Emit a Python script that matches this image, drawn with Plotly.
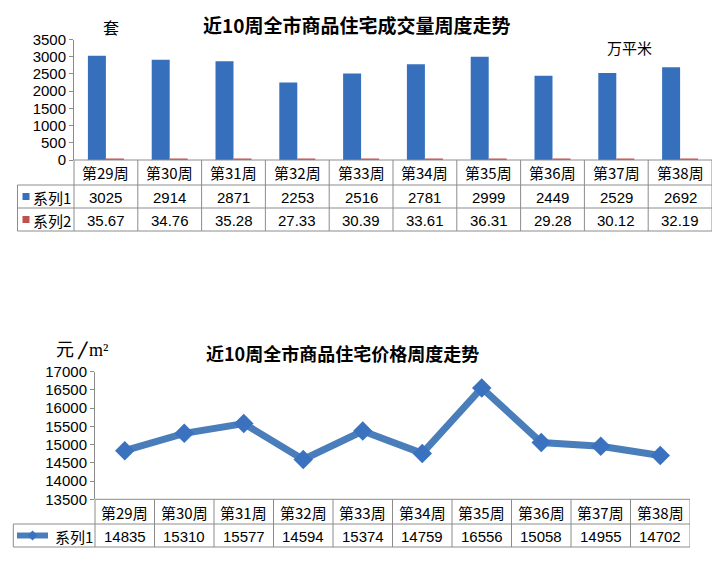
import plotly.graph_objects as go

# ---------------- data ----------------
weeks = ["第29周", "第30周", "第31周", "第32周", "第33周",
         "第34周", "第35周", "第36周", "第37周", "第38周"]
units_sold = [3025, 2914, 2871, 2253, 2516, 2781, 2999, 2449, 2529, 2692]
area_sold = [35.67, 34.76, 35.28, 27.33, 30.39, 33.61, 36.31, 29.28, 30.12, 32.19]
units_text = ["3025", "2914", "2871", "2253", "2516", "2781", "2999", "2449", "2529", "2692"]
area_text = ["35.67", "34.76", "35.28", "27.33", "30.39", "33.61", "36.31", "29.28", "30.12", "32.19"]
prices = [14835, 15310, 15577, 14594, 15374, 14759, 16556, 15058, 14955, 14702]
price_text = ["14835", "15310", "15577", "14594", "15374", "14759", "16556", "15058", "14955", "14702"]
top_title = "近10周全市商品住宅成交量周度走势"
bottom_title = "近10周全市商品住宅价格周度走势"
series_names = ["系列1", "系列2"]
top_yticks = [0, 500, 1000, 1500, 2000, 2500, 3000, 3500]
bottom_yticks = [13500, 14000, 14500, 15000, 15500, 16000, 16500, 17000]

# ---------------- layout helpers ----------------
W, H = 726, 575
def px(x):
    return x / W
def py(y):
    return 1 - y / H

FONT = "Liberation Sans, Noto Sans CJK SC, sans-serif"
CJK = "Noto Sans CJK SC, Liberation Sans, sans-serif"
GRID = "#8c8c8c"
BLUE = "#3670bd"
RED = "#c0504d"
LINE = "#4a7ebb"
MARK = "#3a72c0"

# top chart geometry (pixels)
TX0, TX1 = 74, 712
TY_TOP, TY_BOT = 39.5, 160
T_ROWS = [160, 185, 208, 231]
T_LEFT = 17.5
# bottom chart geometry
BX0, BX1 = 95, 690
BY_TOP, BY_BOT = 371.7, 499.3
B_ROWS = [499.3, 524, 547]
B_LEFT = 13.3

fig = go.Figure()

fig.add_trace(go.Bar(x=weeks, y=units_sold, name=series_names[0],
                     marker=dict(color=BLUE, line=dict(width=0)),
                     xaxis="x", yaxis="y"))
fig.add_trace(go.Bar(x=weeks, y=area_sold, name=series_names[1],
                     marker=dict(color=RED, line=dict(width=0)),
                     xaxis="x", yaxis="y"))
fig.add_trace(go.Scatter(x=weeks, y=prices, name=series_names[0], mode="lines+markers",
                         line=dict(color=LINE, width=7),
                         marker=dict(symbol="diamond", size=15, color=MARK),
                         xaxis="x2", yaxis="y2"))

shapes = []
annotations = []

def hline(x0, x1, y, xref="paper"):
    shapes.append(dict(type="line", xref=xref, yref="paper", x0=x0, x1=x1,
                       y0=py(y), y1=py(y), line=dict(color=GRID, width=1)))

def vline(x, y0, y1, xref="paper"):
    shapes.append(dict(type="line", xref=xref, yref="paper", x0=x, x1=x,
                       y0=py(y0), y1=py(y1), line=dict(color=GRID, width=1)))

def text(x, y, s, size=15, xref="paper", family=FONT, xanchor="center", bold=False):
    annotations.append(dict(x=x, y=py(y), xref=xref, yref="paper",
                            text=("<b>%s</b>" % s) if bold else s, showarrow=False,
                            xanchor=xanchor, yanchor="middle",
                            font=dict(family=family, size=size, color="#000000")))

# ---- top table ----
hline(px(TX0), px(TX1), T_ROWS[0])
for r in T_ROWS[1:]:
    hline(px(T_LEFT), px(TX1), r)
vline(px(T_LEFT), T_ROWS[1], T_ROWS[3])
vline(px(TX0), T_ROWS[0], T_ROWS[3])
for i in range(len(weeks)):
    vline(i + 0.5, T_ROWS[0], T_ROWS[3], xref="x")
for i, w in enumerate(weeks):
    text(i, (T_ROWS[0] + T_ROWS[1]) / 2 + 0.5, w, xref="x", family=CJK)
    text(i, (T_ROWS[1] + T_ROWS[2]) / 2 + 0.5, units_text[i], xref="x")
    text(i, (T_ROWS[2] + T_ROWS[3]) / 2 + 0.5, area_text[i], xref="x")
# legend keys in table
for k, (col, row) in enumerate([(BLUE, 1), (RED, 2)]):
    yc = (T_ROWS[row] + T_ROWS[row + 1]) / 2
    shapes.append(dict(type="rect", xref="paper", yref="paper",
                       x0=px(22.5), x1=px(29.5), y0=py(yc + 3.5), y1=py(yc - 3.5),
                       fillcolor=col, line=dict(width=0)))
    text(px(31), yc + 0.5, series_names[k], family=CJK, xanchor="left")

# ---- bottom table ----
hline(px(BX0), px(BX1), B_ROWS[0])
for r in B_ROWS[1:]:
    hline(px(B_LEFT), px(BX1), r)
vline(px(B_LEFT), B_ROWS[1], B_ROWS[2])
vline(px(BX0), B_ROWS[0], B_ROWS[2])
for i in range(len(weeks)):
    vline(i + 0.5, B_ROWS[0], B_ROWS[2], xref="x2")
for i, w in enumerate(weeks):
    text(i, (B_ROWS[0] + B_ROWS[1]) / 2 + 0.5, w, xref="x2", family=CJK)
    text(i, (B_ROWS[1] + B_ROWS[2]) / 2 + 0.5, price_text[i], xref="x2")
yc = (B_ROWS[1] + B_ROWS[2]) / 2
shapes.append(dict(type="line", xref="paper", yref="paper", x0=px(17), x1=px(48),
                   y0=py(yc), y1=py(yc), line=dict(color=LINE, width=6)))
shapes.append(dict(type="path", xref="paper", yref="paper",
                   path="M %f %f L %f %f L %f %f L %f %f Z" % (
                       px(32.5 - 5), py(yc), px(32.5), py(yc - 5),
                       px(32.5 + 5), py(yc), px(32.5), py(yc + 5)),
                   fillcolor=MARK, line=dict(width=0)))
text(px(53), yc + 0.5, series_names[0], family=CJK, xanchor="left")

# ---- titles and units ----
text(px(356.5), 25, top_title, size=19, family=CJK, bold=True)
text(px(342), 353, bottom_title, size=18, family=CJK, bold=True)
text(px(111), 27, "套", size=16, family=CJK)
text(px(629), 47, "万平米", size=15, family=CJK)
annotations.append(dict(x=px(54), y=py(363), xref="paper", yref="paper", showarrow=False,
                        xanchor="left", yanchor="bottom",
                        text="元 <b><i>/</i></b> <span style='font-family:Liberation Serif'>m²</span>",
                        font=dict(family=CJK, size=18, color="#000000")))

axis_common = dict(showgrid=False, zeroline=False, showline=True, linecolor=GRID,
                   linewidth=1, ticks="outside", ticklen=4, tickcolor=GRID,
                   tickformat="d", automargin=False,
                   tickfont=dict(family=FONT, size=15, color="#000000"))
xaxis_common = dict(range=[-0.5, 9.5], showticklabels=False, automargin=False,
                    showgrid=False, zeroline=False, showline=False, ticks="", fixedrange=True)

fig.update_layout(
    template="none",
    width=W, height=H, autosize=False,
    margin=dict(l=0, r=0, t=0, b=0, pad=0),
    paper_bgcolor="white", plot_bgcolor="white",
    showlegend=False,
    barmode="group", bargap=0.436, bargroupgap=0,
    xaxis=dict(domain=[px(TX0), px(TX1)], anchor="y", **xaxis_common),
    yaxis=dict(domain=[py(TY_BOT), py(TY_TOP)], range=[0, 3500], tickvals=top_yticks,
               anchor="x", fixedrange=True, **axis_common),
    xaxis2=dict(domain=[px(BX0), px(BX1)], anchor="y2", **xaxis_common),
    yaxis2=dict(domain=[py(BY_BOT), py(BY_TOP)], range=[13500, 17000], tickvals=bottom_yticks,
                anchor="x2", fixedrange=True, **axis_common),
    shapes=shapes,
    annotations=annotations,
)

fig.write_html("out.html", config={"displayModeBar": False},
               post_script="document.body.style.margin='0';document.body.style.overflow='hidden';")
